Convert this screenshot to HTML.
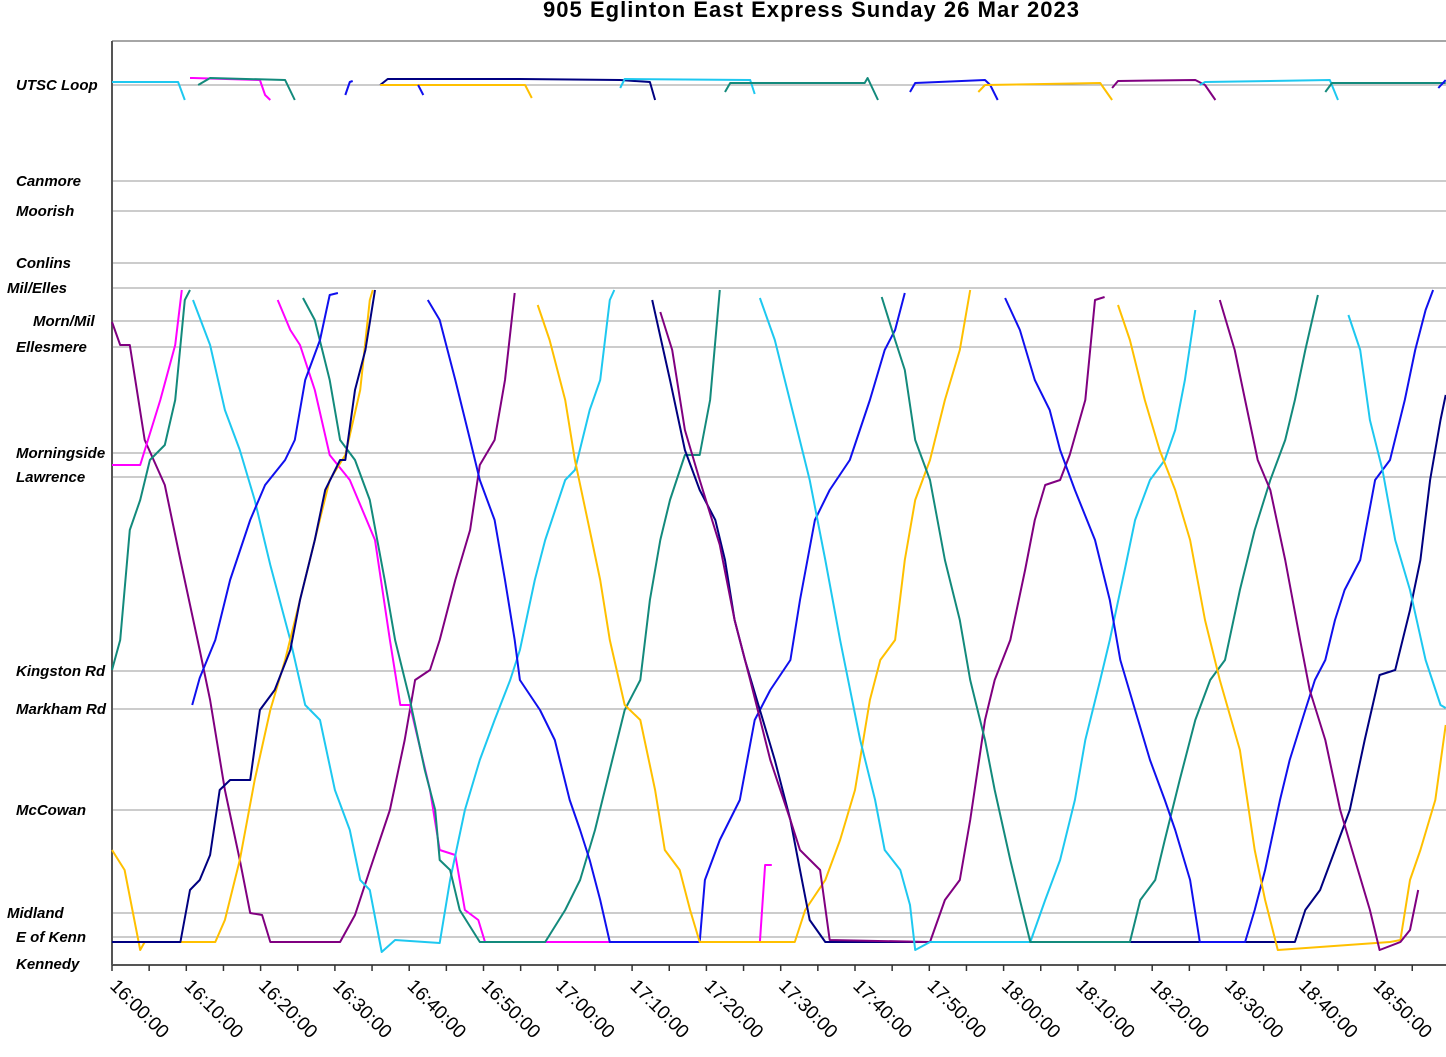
<!DOCTYPE html>
<html><head><meta charset="utf-8"><style>
html,body{margin:0;padding:0;background:#fff;}
svg{display:block;font-family:"Liberation Sans",Arial,sans-serif;}
</style></head><body>
<svg id="chart" width="1446" height="1057" viewBox="0 0 1446 1057">
<text x="811" y="17" text-anchor="middle" font-size="22" font-weight="bold" textLength="536">905 Eglinton East Express Sunday 26 Mar 2023</text>
<g id="grid"></g>
<g id="ylabels"></g>
<g id="xaxis"></g>
<g id="series"></g>
</svg>
<script>
const stopNames = ["UTSC Loop","Canmore","Moorish","Conlins","Mil/Elles","Morn/Mil","Ellesmere","Morningside","Lawrence","Kingston Rd","Markham Rd","McCowan","Midland","E of Kenn","Kennedy"];
const stopDist = [8.8,7.84,7.54,7.02,6.77,6.44,6.18,5.12,4.88,2.94,2.56,1.55,0.52,0.28,0];
const stopLabelX = [16,16,16,16,7,33,16,16,16,16,16,16,7,16,16];
const xTickLabels = ["16:00:00","16:10:00","16:20:00","16:30:00","16:40:00","16:50:00","17:00:00","17:10:00","17:20:00","17:30:00","17:40:00","17:50:00","18:00:00","18:10:00","18:20:00","18:30:00","18:40:00","18:50:00"];
const P="#800080",T="#138a7c",L="#1ec8f0",B="#1010ee",N="#000080",G="#ffc000",M="#ff00ff";
const tripColors=[P,M,M,L,T,B,G,N,P,L,T,B,G,P,L,T, L,M,T,B,N,G,B,L,T,B,G,P,L,T,B];
const tripTimes=[
[0,1.1,2.4,4.4,7.1,9.2,11.8,13.2,15.2,17.2,18.6,20.2,21.3,30.7,32.7,34.7,37.4,39.4,40.8,42.8,44.1,46.2,48.2,49.5,51.5,52.9,54.2],
[0,3.8,6.5,8.5,9.4],
[22.3,24,25.3,27.3,29.3,32,35.4,37.4,38.8,40.1,42.8,44.1,46.2,47.5,49.3,50.2,87.2,87.9,88.8],
[10.9,13.2,15.2,17.2,19.2,21.3,24,26,28,30,32,33.4,34.7,36.3,38.1,44.1,45.5,47.5,49.5,51.5,53.6,54.9,56.9,58.3,61,62.3,64.3,65.7,67,67.6],
[25.7,27.3,29.3,30.7,32.7,34.7,36.7,38.1,40.1,42.1,43.5,44.1,45.5,46.8,49.5,58.3,61,63,65,67,69,71.1,72.4,73.8,75.1,77.1,79.1,80.5,81.8],
[42.5,44.1,46.2,48.2,49.5,51.5,52.9,54.2,54.9,57.6,59.6,61.6,63,64.3,65.7,67,79.1,79.8,81.8,84.5,86.5,88.6,91.3,92.6,94.6,96.6,99.3,102,104,105.4,106.7],
[57.3,58.9,61,62.3,64.3,65.7,67,69,71.1,73.1,74.4,76.4,77.8,79.1,91.9,93.3,96,98,100,102,103.4,105.4,106.7,108.1,110.1,112.1,114.1,115.5],
[72.7,75.1,77.1,79.1,81.2,82.5,83.8,85.2,87.2,89.2,91.3,92.6,93.9,96,159.2,160.6,162.6,164.6,166.6,168.6,170.6,172.7,174.7,176.1,177.4,178.8,179.5],
[73.8,75.4,77.1,79.1,81.8,83.8,85.9,88.6,91.3,92.6,95.3,96.6,110.1,112.1,114.1,115.5,117.5,118.8,120.9,122.9,124.2,125.6,127.6,128.9,131,132.3,133.6],
[87.2,89.2,91.9,93.9,96,98,100.7,102.7,104,106.1,107.4,108.1,110.1,123.6,125.6,127.6,129.6,131,133,134.3,136.3,137.7,139.7,141.7,143.1,144.4,145.8],
[103.6,105.4,106.7,108.1,110.1,112.1,114.1,115.5,117.5,118.8,120.9,122.2,123.6,137,138.4,140.4,141.7,143.7,145.8,147.8,149.8,151.8,153.8,155.9,157.9,159.2,160.6,162.3],
[120.2,122.2,124.2,126.2,127.6,129.6,132.3,134.3,135.7,137.7,139.7,141.7,143.1,145.1,146.4,152.5,153.8,155.2,157.2,158.5,160.6,161.9,163.3,164.6,165.9,168,170,172,174,175.4,176.8,177.8],
[135.4,137,139,141,143.1,145.1,147.1,149.1,151.8,153.8,155.2,156.9,172,173.4,174.7,176.1,178.1,179.5],
[149.1,151.1,152.5,154.2,155.9,157.9,159.9,161.2,163.3,165.3,167.3,169.3,170.6,173.4,174.7,175.8],
[166.4,168,169.3,171,172.7,174.7,176.8,178.8,179.5],
[0,1.1,2.4,3.8,5.1,7.1,8.5,9.8,10.5],
[0,8.9,9.8],[10.5,10.9,19.9,20.6,21.3],[11.6,13.2,23.3,24.6],[31.4,32,32.4],[36.1,37.1,54.9,68.4,72.4,73.1],[36.1,55.6,56.5],[41.2,41.9],[68.4,69,85.9,86.5],[82.5,83.2,101.3,101.7,103.1],[107.4,108.1,117.5,118.2,119.2],[116.6,117.5,133,134.6],[134.6,135.4,145.8,147.1,148.5],[146.4,147.1,163.9,165],[163.3,164.2,179.5],[178.5,179.5]
];
const tripDist=[
[6.43,6.2,6.2,5.25,4.8,4.05,3.15,2.65,1.75,1.05,0.52,0.5,0.23,0.23,0.5,0.95,1.55,2.25,2.85,2.95,3.25,3.85,4.35,5,5.25,5.85,6.72],
[5,5,5.65,6.2,6.75],
[6.65,6.35,6.2,5.75,5.1,4.85,4.25,3.25,2.6,2.6,1.75,1.15,1.1,0.55,0.45,0.23,0.23,1.0,1.0],
[6.65,6.2,5.55,5.15,4.65,4,3.25,2.6,2.45,1.75,1.35,0.85,0.75,0.13,0.25,0.22,0.85,1.55,2.05,2.45,2.85,3.15,3.85,4.25,4.85,4.95,5.55,5.85,6.65,6.75],
[6.67,6.45,5.85,5.25,5.05,4.65,3.85,3.25,2.65,1.95,1.55,1.05,0.95,0.55,0.23,0.23,0.55,0.85,1.35,1.95,2.55,2.85,3.65,4.25,4.65,5.1,5.1,5.65,6.75],
[6.65,6.45,5.85,5.25,4.85,4.45,3.85,3.25,2.85,2.55,2.25,1.65,1.35,1.05,0.65,0.23,0.23,0.85,1.25,1.65,2.45,2.75,3.05,3.65,4.45,4.75,5.05,5.65,6.15,6.35,6.72],
[6.6,6.25,5.65,5.05,4.35,3.85,3.25,2.6,2.45,1.75,1.15,0.95,0.55,0.23,0.23,0.55,0.85,1.25,1.75,2.65,3.05,3.25,4.05,4.65,5.05,5.65,6.15,6.75],
[6.65,5.85,5.15,4.75,4.45,4.05,3.45,3.05,2.55,2.05,1.45,0.95,0.45,0.23,0.23,0.55,0.75,1.15,1.55,2.25,2.9,2.95,3.55,4.05,4.85,5.45,5.7],
[6.53,6.15,5.35,4.85,4.2,3.45,2.85,2.05,1.45,1.15,0.95,0.25,0.23,0.65,0.85,1.45,2.45,2.85,3.25,3.95,4.45,4.8,4.85,5.1,5.65,6.65,6.68],
[6.67,6.25,5.45,4.85,4.05,3.25,2.25,1.65,1.15,0.95,0.6,0.15,0.23,0.23,0.65,1.05,1.65,2.25,2.85,3.25,3.95,4.45,4.85,5.05,5.35,5.85,6.55],
[6.68,6.25,5.95,5.25,4.85,4.05,3.45,2.85,2.25,1.75,1.05,0.65,0.23,0.23,0.65,0.85,1.25,1.85,2.45,2.85,3.05,3.75,4.35,4.85,5.25,5.65,6.15,6.7],
[6.67,6.35,5.85,5.55,5.15,4.75,4.25,3.65,3.05,2.55,2.05,1.65,1.35,0.85,0.23,0.23,0.55,0.95,1.65,2.05,2.55,2.85,3.05,3.45,3.75,4.05,4.85,5.05,5.65,6.15,6.55,6.75],
[6.6,6.25,5.65,5.15,4.75,4.25,3.45,2.85,2.15,1.15,0.65,0.15,0.23,0.25,0.85,1.15,1.65,2.4],
[6.65,6.15,5.65,5.05,4.75,4.05,3.25,2.75,2.25,1.55,1.05,0.55,0.15,0.23,0.35,0.75],
[6.5,6.15,5.45,4.95,4.25,3.75,3.05,2.6,2.57],
[2.95,3.25,4.35,4.65,5.05,5.2,5.65,6.65,6.75],
[8.83,8.83,8.65],[8.87,8.87,8.85,8.7,8.65],[8.8,8.87,8.85,8.65],[8.7,8.83,8.84],[8.8,8.86,8.86,8.85,8.83,8.65],[8.8,8.8,8.67],[8.8,8.7],[8.77,8.86,8.85,8.71],[8.73,8.82,8.82,8.87,8.65],[8.73,8.82,8.85,8.8,8.65],[8.73,8.8,8.82,8.65],[8.77,8.84,8.85,8.8,8.65],[8.8,8.83,8.85,8.65],[8.73,8.82,8.82],[8.77,8.85]
];
tripColors.push(G,N,B);
tripTimes.push([0,1.7,3.8,4.4,13.9,15.2,17.2,19.2,21.3,23.3,25.3,27.3,29.3,31.4,33.4,34.7,35.1],
 [0,9.2,10.5,11.8,13.2,14.5,15.9,18.6,19.9,21.9,24,25.3,27.3,28.7,30.7,31.4,32.7,34.1,35.4],
 [10.8,11.8,13.9,15.9,18.6,20.6,23.3,24.6,26,28,29.3,30.4]);
tripDist.push([1.15,0.95,0.15,0.23,0.23,0.45,1.05,1.85,2.55,3.05,3.65,4.25,4.85,5.1,5.75,6.65,6.75],
 [0.23,0.23,0.75,0.85,1.1,1.75,1.85,1.85,2.55,2.75,3.15,3.65,4.25,4.75,5.05,5.05,5.75,6.15,6.75],
 [2.6,2.87,3.25,3.85,4.45,4.8,5.05,5.25,5.85,6.25,6.7,6.72]);

const X0=112, X1=1446, YB=965, YT=41;
const xs = t => X0 + t*7.43;
const ys = d => YB - d*100;
const NS="http://www.w3.org/2000/svg";
function mk(tag, attrs, parent){const e=document.createElementNS(NS,tag);for(const k in attrs)e.setAttribute(k,attrs[k]);parent.appendChild(e);return e;}
const grid=document.getElementById('grid'), yl=document.getElementById('ylabels'), xa=document.getElementById('xaxis'), ser=document.getElementById('series');
mk('line',{x1:X0,y1:YT,x2:X1,y2:YT,stroke:'#888','stroke-width':1.5},grid);
stopDist.forEach((d,i)=>{
  if(d>0){const g=mk('line',{x1:X0,y1:ys(d),x2:X1,y2:ys(d),stroke:'#999','stroke-width':1},grid);
  
  }
  const t=mk('text',{x:stopLabelX[i],y:ys(d)+(d===0?4:5),'font-size':15,'font-weight':'bold','font-style':'italic'},yl);
  t.textContent=stopNames[i];
  
  
});
mk('line',{x1:X0,y1:YT,x2:X0,y2:YB,stroke:'#555','stroke-width':2},xa);
mk('line',{x1:X0,y1:YB,x2:X1,y2:YB,stroke:'#555','stroke-width':2},xa);
for(let m=0;m<=180;m+=5){mk('line',{x1:xs(m),y1:YB,x2:xs(m),y2:YB+6,stroke:'#333','stroke-width':1.5},xa);}
xTickLabels.forEach((s,i)=>{
  const x=xs(i*10), y=YB+22;
  const t=mk('text',{x:x-3,y:y,'font-size':19,transform:`rotate(45 ${x-3} ${y})`},xa);
  t.textContent=s;
  
  
});
tripTimes.forEach((tt,i)=>{
  const pts=tt.map((t,j)=>xs(t).toFixed(1)+','+ys(tripDist[i][j]).toFixed(1)).join(' ');
  const p=mk('polyline',{points:pts,fill:'none',stroke:tripColors[i],'stroke-width':2,'stroke-linejoin':'round'},ser);
  
  
});
</script>
</body></html>
